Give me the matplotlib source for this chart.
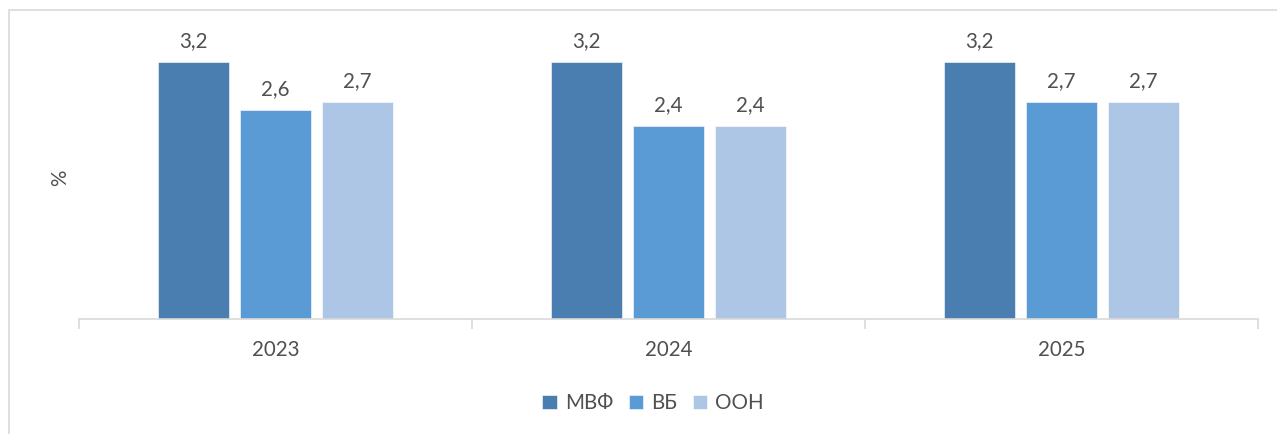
import numpy as np
import matplotlib
matplotlib.use("Agg")
import matplotlib.pyplot as plt
from matplotlib.patches import Rectangle

# data
years = ["2023", "2024", "2025"]
series = ["МВФ", "ВБ", "ООН"]
imf = [3.2, 3.2, 3.2]
wb = [2.6, 2.4, 2.7]
un = [2.7, 2.4, 2.7]

colors = ["#4A7EB0", "#5B9BD5", "#ADC6E5"]
text_col = "#505050"
grid_col = "#D9D9D9"
fs = 14.8

plt.rcParams['font.family'] = ['Lato', 'Noto Sans', 'DejaVu Sans']

W, H = 1277, 434
fig = plt.figure(figsize=(W / 100, H / 100), dpi=100)

# chart border (only left/top visible in the reference)
fig.patches.append(Rectangle((9 / W, -0.1), 1.2, 1 - 10 / H + 0.1,
                             transform=fig.transFigure, fill=False,
                             edgecolor=grid_col, linewidth=1.2))

ax = fig.add_axes([79 / W, 1 - 319 / H, (1258 - 79) / W, (319 - 10) / H])

x = np.arange(len(years))
width = 0.181
offset = 0.2087
for i, (vals, name) in enumerate(zip([imf, wb, un], series)):
    pos = x + (i - 1) * offset
    bars = ax.bar(pos, vals, width, color=colors[i], label=name,
                  edgecolor="white", linewidth=0.4)
    for b, v in zip(bars, vals):
        ax.text(b.get_x() + b.get_width() / 2, v + 0.14,
                f"{v:.1f}".replace(".", ","), ha="center", va="bottom",
                fontsize=fs, color=text_col)

ax.set_xlim(-0.5, 2.5)
ax.set_ylim(0, 309 / 80.3)
ax.set_yticks([])
for s in ["top", "right", "left"]:
    ax.spines[s].set_visible(False)
ax.spines["bottom"].set_color(grid_col)
ax.spines["bottom"].set_linewidth(1.2)

ax.set_xticks(x)
ax.set_xticklabels(years, fontsize=fs, color=text_col)
ax.tick_params(axis="x", length=0, pad=15)
# category boundary ticks
ax.set_xticks([-0.5, 0.5, 1.5, 2.5], minor=True)
ax.tick_params(axis="x", which="minor", length=7, color=grid_col, width=1.2)

fig.text(60 / W, 1 - 178 / H, "%", rotation=90, ha="center", va="center",
         fontsize=fs, color=text_col)

leg = fig.legend(loc="center", bbox_to_anchor=(653 / W, 1 - 403 / H),
                 ncol=3, frameon=False, fontsize=fs, handlelength=0.7,
                 handleheight=0.7, handletextpad=0.4, columnspacing=0.75)
for t in leg.get_texts():
    t.set_color(text_col)

fig.savefig("out.png", dpi=100)
